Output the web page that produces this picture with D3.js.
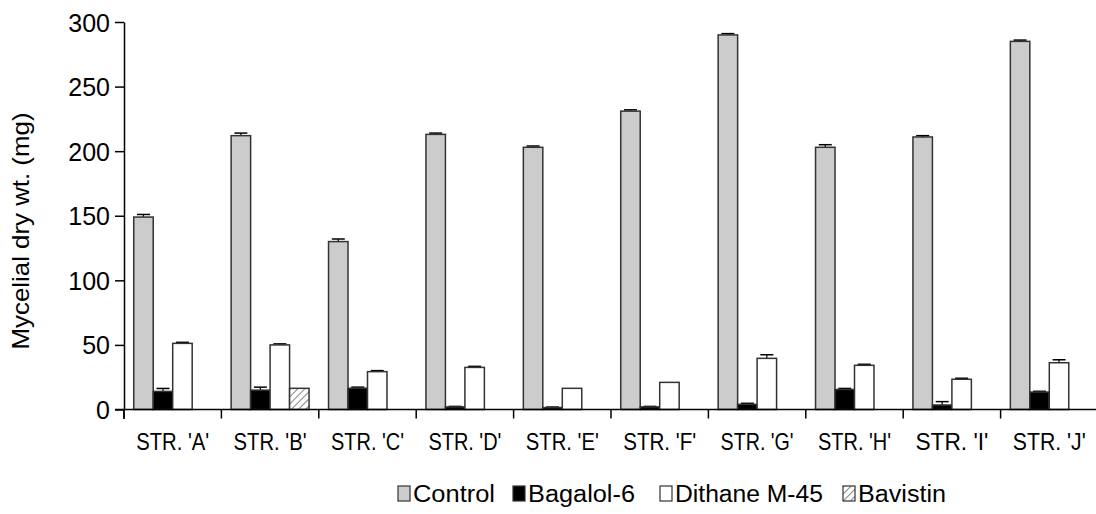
<!DOCTYPE html>
<html>
<head>
<meta charset="utf-8">
<script src="https://cdn.jsdelivr.net/npm/d3@7"></script>
<style>
  html, body { margin: 0; padding: 0; background: #fff; }
  svg { display: block; }
  text { font-family: "Liberation Sans", Arial, sans-serif; fill: #000; }
</style>
</head>
<body>
<svg id="chart" width="1096" height="514"></svg>
<script>
const categories = ["STR. 'A'", "STR. 'B'", "STR. 'C'", "STR. 'D'", "STR. 'E'", "STR. 'F'", "STR. 'G'", "STR. 'H'", "STR. 'I'", "STR. 'J'"];
const seriesNames = ["Control", "Bagalol-6", "Dithane M-45", "Bavistin"];
const yTicks = [0, 50, 100, 150, 200, 250, 300];

const control     = [149, 212, 130, 213, 203, 231, 290, 203, 211, 285];
const controlErr  = [2, 2, 2, 1, 1, 1, 1, 2, 1, 1];
const bagalol     = [14, 15, 16.5, 2, 1.5, 2, 4, 15.5, 3.5, 13.5];
const bagalolErr  = [2.3, 2.3, 0.8, 0.4, 0.4, 0.4, 0.8, 0.8, 2.6, 0.6];
const dithane     = [51.2, 50, 29.3, 32.6, 16.4, 21, 39.6, 34.2, 23.4, 36.2];
const dithaneErr  = [0.8, 0.8, 0.8, 0.8, 0, 0, 2.8, 0.8, 0.8, 2.3];
const bavistin    = [0, 16.4, 0, 0, 0, 0, 0, 0, 0, 0];
const bavistinErr = [0, 0, 0, 0, 0, 0, 0, 0, 0, 0];

const seriesValues = [control, bagalol, dithane, bavistin];
const seriesErrors = [controlErr, bagalolErr, dithaneErr, bavistinErr];

const svg = d3.select("#chart");
svg.append("rect").attr("width", 1096).attr("height", 514).attr("fill", "#fff");

const defs = svg.append("defs");
const pat = defs.append("pattern")
  .attr("id", "hatch").attr("patternUnits", "userSpaceOnUse")
  .attr("width", 5).attr("height", 5)
  .attr("patternTransform", "rotate(45)");
pat.append("rect").attr("width", 5).attr("height", 5).attr("fill", "#fff");
pat.append("line").attr("x1", 0).attr("y1", 0).attr("x2", 0).attr("y2", 5)
  .attr("stroke", "#333").attr("stroke-width", 1.2);

const fills = ["#cccccc", "#000000", "#ffffff", "url(#hatch)"];

const x0 = d3.scaleBand().domain(categories).range([124, 1098]).paddingInner(0.2).paddingOuter(0.1);
const x1 = d3.scaleBand().domain(seriesNames).range([0, x0.bandwidth()]);
const y = d3.scaleLinear().domain([0, 300]).range([409.5, 22]);

// bars
categories.forEach((c, ci) => {
  seriesNames.forEach((s, si) => {
    const v = seriesValues[si][ci];
    if (!v) return;
    const g = svg.append("g");
    const bx = x0(c) + x1(s);
    const bw = x1.bandwidth();
    const e = seriesErrors[si][ci];
    if (e > 0) {
      const cx = bx + bw / 2;
      g.append("line").attr("x1", cx).attr("x2", cx).attr("y1", y(v)).attr("y2", y(v + e))
        .attr("stroke", "#000").attr("stroke-width", 1.2);
      g.append("line").attr("x1", cx - 6.5).attr("x2", cx + 6.5).attr("y1", y(v + e)).attr("y2", y(v + e))
        .attr("stroke", "#000").attr("stroke-width", 1.5);
    }
    g.append("rect").attr("x", bx).attr("width", bw)
      .attr("y", y(v)).attr("height", y(0) - y(v))
      .attr("fill", fills[si]).attr("stroke", "#333").attr("stroke-width", 1.5);
  });
});

// y axis
const yAxis = svg.append("g").attr("transform", "translate(124,0)")
  .call(d3.axisLeft(y).tickValues(yTicks).tickSize(9).tickPadding(5).tickSizeOuter(0));
yAxis.select(".domain").attr("stroke", "#000").attr("stroke-width", 1.5);
yAxis.selectAll(".tick line").attr("stroke", "#000").attr("stroke-width", 1.5);
yAxis.selectAll(".tick text").style("font-size", "25px").style("font-family", "'Liberation Sans', Arial, sans-serif").attr("dy", "0.36em");
svg.append("line").attr("x1", 124).attr("x2", 124).attr("y1", 409.5).attr("y2", 419)
  .attr("stroke", "#000").attr("stroke-width", 1.5);

// x axis
const step = x0.step();
svg.append("line").attr("x1", 115).attr("x2", 1096).attr("y1", y(0)).attr("y2", y(0))
  .attr("stroke", "#000").attr("stroke-width", 1.5);
categories.forEach((c, i) => {
  const tx = x0(c) - step * x0.paddingOuter();
  svg.append("line").attr("x1", tx).attr("x2", tx).attr("y1", y(0)).attr("y2", y(0) + 9)
    .attr("stroke", "#000").attr("stroke-width", 1.5);
  svg.append("text").attr("x", x0(c) + x0.bandwidth() / 2).attr("y", 450)
    .attr("text-anchor", "middle").style("font-size", "24px")
    .attr("textLength", 73).attr("lengthAdjust", "spacingAndGlyphs")
    .text(c);
});

// y title
svg.append("text").attr("transform", "translate(29,231) rotate(-90)")
  .attr("text-anchor", "middle").style("font-size", "24px")
  .attr("textLength", 237).attr("lengthAdjust", "spacingAndGlyphs")
  .text("Mycelial dry wt. (mg)");

// legend
const legendX = [398, 513, 660, 843];
const legendW = [82, 107, 148, 88];
seriesNames.forEach((s, i) => {
  svg.append("rect").attr("x", legendX[i]).attr("y", 486).attr("width", 12).attr("height", 15)
    .attr("fill", fills[i]).attr("stroke", "#333").attr("stroke-width", 1.2);
  svg.append("text").attr("x", legendX[i] + 15).attr("y", 501.5)
    .style("font-size", "23px")
    .attr("textLength", legendW[i]).attr("lengthAdjust", "spacingAndGlyphs")
    .text(s);
});
</script>
</body>
</html>
